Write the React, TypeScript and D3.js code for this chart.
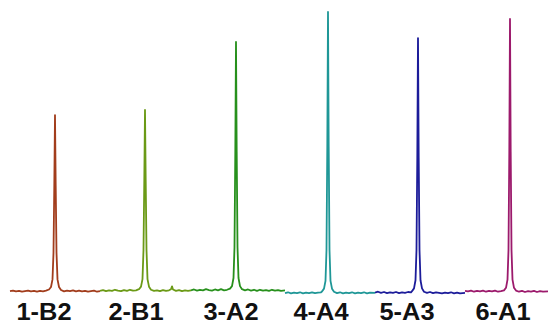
import React, { useEffect, useRef } from 'react';
import * as d3 from 'd3';

type Pt = [number, number];

// sample names, in panel order
const labels = ['1-B2', '2-B1', '3-A2', '4-A4', '5-A3', '6-A1'];
const labelX = [44, 136, 231, 321, 407, 503];
const colors = ['#a23d1c', '#6b9a16', '#27901c', '#1f9797', '#1c1c9a', '#9c1a6c'];

// traces: [channel, intensity]
const trace1: Pt[] = [
  [10, 0.3], [13, 0.5], [16, 0.2], [19, 0.4], [22, 0.1], [25, 0.3], [28, 0.5], [31, 0.2], [34, 0.4], [37, 0.1], [40, 0.4], [43, 0.2], [46, 0.5],
  [49, 0.9], [51, 1.8], [52.5, 4.5], [53.5, 14], [54.3, 38], [55, 63.2], [55.7, 38], [56.5, 14], [57.5, 4.5],
  [59, 1.8], [61, 0.7], [64, 0.2], [67, 0.5], [70, 0.3], [73, 0.6], [76, 0.2], [79, 0.5], [82, 0.2], [85, 0.4], [88, 0.1], [91, 0.3], [94, 0.5], [97, 0.1], [100, 0.3],
];
const trace2: Pt[] = [
  [100, 0.4], [103, 0.7], [106, 0.3], [109, 0.6], [112, 0.4], [115, 0.8], [118, 0.5], [121, 0.3], [124, 0.7], [127, 0.4], [130, 0.8], [133, 0.5], [136, 0.6],
  [139, 1.0], [141, 1.9], [142.5, 4.6], [143.5, 15], [144.3, 40], [145, 65], [145.7, 40], [146.5, 15], [147.5, 4.6],
  [149, 1.9], [151, 0.8], [154, 0.4], [157, 0.6], [160, 0.3], [163, 0.7], [166, 0.4], [169, 0.6], [171, 1.0], [172, 2.0], [173, 0.9],
  [176, 0.4], [179, 0.7], [182, 0.3], [185, 0.6], [188, 0.4], [191, 0.6],
];
const trace3: Pt[] = [
  [191, 0.6], [194, 0.9], [197, 0.5], [200, 0.8], [203, 0.6], [206, 1.0], [209, 0.7], [212, 0.5], [215, 0.9], [218, 0.6], [221, 1.0], [224, 0.6], [227, 0.8],
  [230, 1.2], [232, 2.1], [233.5, 5], [234.5, 16], [235.3, 50], [236, 89.3], [236.7, 50], [237.5, 16], [238.5, 5],
  [240, 2.1], [242, 1.0], [245, 0.6], [248, 0.9], [251, 0.5], [254, 0.8], [257, 0.4], [260, 0.8], [263, 0.5], [266, 0.7], [269, 0.4], [272, 0.8], [275, 0.5], [278, 0.7], [281, 0.4], [285, 0.6],
];
const trace4: Pt[] = [
  [285, -0.4], [288, -0.1], [291, -0.5], [294, -0.2], [297, -0.4], [300, -0.1], [303, -0.5], [306, -0.2], [309, -0.4], [312, -0.1], [315, -0.4], [318, -0.2], [321, -0.1],
  [322, 0.2], [324, 1.2], [325.5, 4], [326.5, 15], [327.3, 52], [328, 100], [328.7, 52], [329.5, 15], [330.5, 4],
  [332, 1.2], [334, 0.1], [337, -0.4], [340, -0.1], [343, -0.5], [346, -0.2], [349, -0.4], [352, -0.1], [355, -0.5], [358, -0.2], [361, -0.4], [364, -0.1], [367, -0.5], [370, -0.2], [375, -0.3],
];
const trace5: Pt[] = [
  [375, -0.2], [378, 0.1], [381, -0.3], [384, 0.0], [387, -0.4], [390, -0.1], [393, -0.3], [396, 0.0], [399, -0.4], [402, -0.1], [405, -0.3], [408, 0.0], [411, -0.1],
  [412, 0.3], [414, 1.3], [415.5, 4.2], [416.5, 15], [417.3, 48], [418, 90.7], [418.7, 48], [419.5, 15], [420.5, 4.2],
  [422, 1.3], [424, 0.1], [427, -0.3], [430, 0.0], [433, -0.4], [436, -0.1], [439, -0.3], [442, -0.5], [445, -0.2], [448, -0.4], [451, -0.1], [454, -0.5], [457, -0.2], [460, -0.5], [465, -0.3],
];
const trace6: Pt[] = [
  [465, 0.4], [468, 0.2], [471, 0.5], [474, 0.1], [477, 0.4], [480, 0.2], [483, 0.5], [486, 0.1], [489, 0.4], [492, 0.2], [495, 0.5], [498, 0.1], [501, 0.3],
  [504, 0.6], [506, 1.5], [507.5, 4.4], [508.5, 15], [509.3, 50], [510, 97.5], [510.7, 50], [511.5, 15], [512.5, 4.4],
  [514, 1.5], [516, 0.5], [519, 0.1], [522, 0.4], [525, 0.0], [528, 0.3], [531, 0.1], [534, 0.4], [537, 0.0], [540, 0.3], [543, 0.1], [548, 0.2],
];
const traces = [trace1, trace2, trace3, trace4, trace5, trace6];

export default function App() {
  const ref = useRef<SVGSVGElement>(null);
  const width = 548;
  const height = 324;

  useEffect(() => {
    if (!ref.current) return;
    const svg = d3.select(ref.current);
    svg.selectAll('*').remove();

    const x = d3.scaleLinear().domain([0, 548]).range([0, width]);
    const y = d3.scaleLinear().domain([0, 100]).range([292, 12]);
    const line = d3.line<Pt>().x(d => x(d[0])).y(d => y(d[1]));

    svg.selectAll('path.trace').data(traces).enter().append('path')
      .attr('class', 'trace')
      .attr('d', d => line(d))
      .attr('fill', 'none')
      .attr('stroke', (_, i) => colors[i])
      .attr('stroke-width', 1.8)
      .attr('stroke-linejoin', 'round');

    svg.selectAll('text.lab').data(labels).enter().append('text')
      .attr('class', 'lab')
      .attr('x', (_, i) => x(labelX[i]))
      .attr('y', 319.5)
      .attr('text-anchor', 'middle')
      .attr('font-family', '"Liberation Sans", Arial, sans-serif')
      .attr('font-weight', 'bold')
      .attr('font-size', '23px')
      .attr('textLength', 55)
      .attr('lengthAdjust', 'spacingAndGlyphs')
      .attr('fill', '#111')
      .text(d => d);
  }, []);

  return (
    <div style={{ position: 'absolute', left: 0, top: 0, width, height, background: '#fff' }}>
      <svg ref={ref} width={width} height={height} />
    </div>
  );
}
